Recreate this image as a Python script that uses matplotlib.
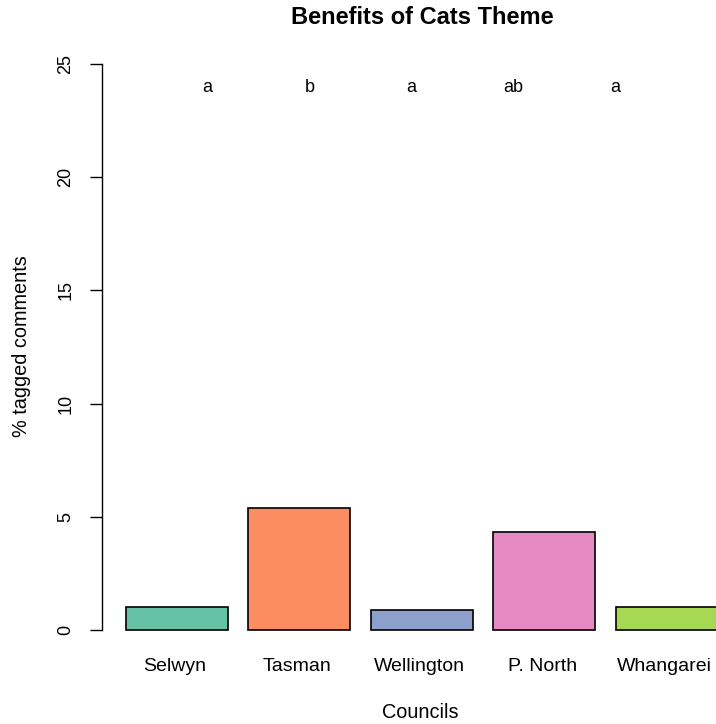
import matplotlib
matplotlib.use("Agg")
import matplotlib.pyplot as plt

plt.rcParams['font.family'] = ['Liberation Sans', 'DejaVu Sans']

councils = ["Selwyn", "Tasman", "Wellington", "P. North", "Whangarei"]
pct_tagged = [1.02, 5.40, 0.88, 4.33, 1.01]
group_letters = ["a", "b", "a", "ab", "a"]
bar_colors = ["#66C2A5", "#FC8D62", "#8DA0CB", "#E78AC3", "#A6D854"]
y_ticks = [0, 5, 10, 15, 20, 25]

fig = plt.figure(figsize=(7.16, 7.24), dpi=100)
ax = fig.add_axes([0.1429, 0.0986, 0.8925, 0.8442])

# barplot-style layout: width 1, space 0.2
centers = [0.7 + 1.2 * i for i in range(len(councils))]
ax.bar(centers, pct_tagged, width=1.0, color=bar_colors,
       edgecolor="black", linewidth=1.2, zorder=2)

ax.set_xlim(-0.032, 6.232)
ax.set_ylim(-1, 26)

# significance letters
for i, lab in enumerate(group_letters):
    ax.text(i + 1, 23.95, lab, ha="center", va="center", fontsize=13)

# category labels under each bar
for c, name in zip(centers, councils):
    ax.text(c - 0.02, -1.6, name, ha="center", va="center", fontsize=14,
            transform=ax.transData, clip_on=False)

for s in ["top", "right", "bottom"]:
    ax.spines[s].set_visible(False)
ax.spines["left"].set_bounds(0, 25)
ax.spines["left"].set_linewidth(1.0)
ax.set_xticks([])
ax.set_yticks(y_ticks)
ax.set_yticklabels([str(t) for t in y_ticks], rotation=90, va="center")
ax.tick_params(axis="y", length=9, width=1.0, pad=11, labelsize=13)

fig.text(0.1429 + 0.8925 / 2, 1 - 18 / 724, "Benefits of Cats Theme",
         ha="center", va="center", fontsize=17, fontweight="bold")
fig.text(0.1429 + 0.8925 / 2 - 0.002, 1 - 713 / 724, "Councils",
         ha="center", va="center", fontsize=14.3)
fig.text(22 / 716, 1 - 346 / 724, "% tagged comments", rotation=90,
         ha="center", va="center", fontsize=14.3)

fig.savefig("out.png", dpi=100)
